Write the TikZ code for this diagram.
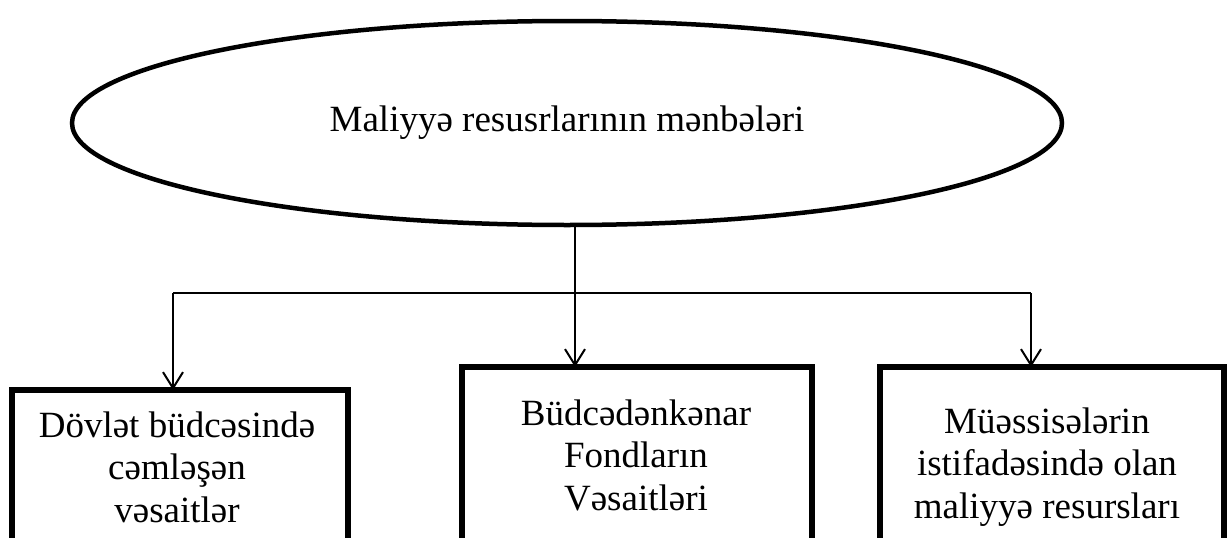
\documentclass[tikz,border=0pt]{standalone}
\usepackage{fontspec}
\setmainfont{Liberation Serif}
\usetikzlibrary{shapes.geometric, arrows.meta, positioning}
\tikzset{>={Straight Barb[length=16pt,width=20pt]}}

\begin{document}
\begin{tikzpicture}[x=1pt, y=-1pt,
  source/.style={ellipse, draw, line width=4.5pt, minimum width=990, minimum height=204, inner sep=0pt},
  box/.style={rectangle, draw, line width=5.5pt, anchor=north west, outer sep=0pt, minimum height=260},
  txt/.style={align=center, font=\fontsize{37}{42.5}\selectfont},
  link/.style={line width=2pt}]

\useasboundingbox (0,0) rectangle (1227,538);
\clip (0,0) rectangle (1227,538);

% Top ellipse
\node[source, txt] (src) at (567,123) {Maliyyə resusrlarının mənbələri};

% Boxes (cut at the bottom)
\node[box, minimum width=336] (budget) at (12,390) {};
\node[box, minimum width=350] (fund) at (462,367) {};
\node[box, minimum width=344] (firm) at (880,367) {};

% Box texts
\node[txt] (budgettxt) at (177,467) {Dövlət büdcəsində\\cəmləşən\\vəsaitlər};
\node[txt] (fundtxt) at (636,455) {Büdcədənkənar\\Fondların\\Vəsaitləri};
\node[txt] (firmtxt) at (1047,467) {Müəssisələrin\\istifadəsində olan\\maliyyə resursları};

% Connectors
\coordinate (hub) at (575,293);
\coordinate (hubL) at (173,293);
\coordinate (hubR) at (1031,293);
\draw[link] (hubL) -- (hubR);
\draw[link, ->] (src.south -| hub) -- (fund.north -| hub);
\draw[link, ->] (hubL) -- (budget.north -| hubL);
\draw[link, ->] (hubR) -- (firm.north -| hubR);

\end{tikzpicture}
\end{document}
